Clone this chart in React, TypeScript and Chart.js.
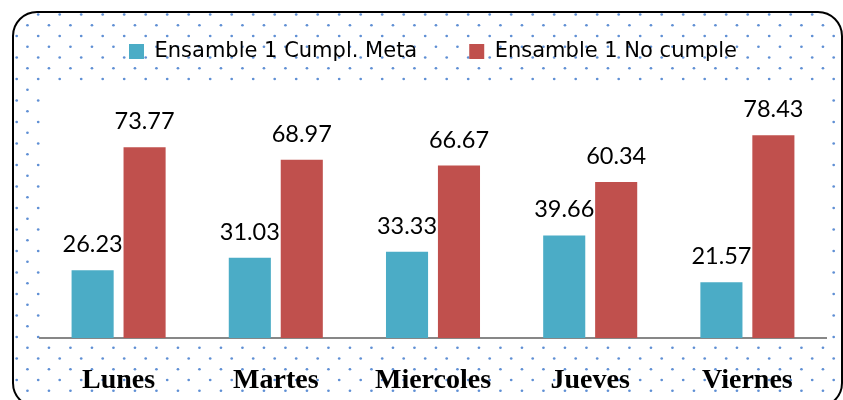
import React, { useEffect, useRef } from "react";
import { Chart, registerables } from "chart.js";

Chart.register(...registerables);

const categories = ["Lunes", "Martes", "Miercoles", "Jueves", "Viernes"];
const seriesNames = ["Ensamble 1 Cumpl. Meta", "Ensamble 1 No cumple"];
const metaValues = [26.23, 31.03, 33.33, 39.66, 21.57];
const noCumpleValues = [73.77, 68.97, 66.67, 60.34, 78.43];
const seriesColors = ["#4bacc6", "#c0504d"];

const W = 843;
const H = 400;

function roundRectPath(ctx: CanvasRenderingContext2D, x: number, y: number, w: number, h: number, r: number) {
  ctx.beginPath();
  ctx.moveTo(x + r, y);
  ctx.lineTo(x + w - r, y);
  ctx.arcTo(x + w, y, x + w, y + r, r);
  ctx.lineTo(x + w, y + h - r);
  ctx.arcTo(x + w, y + h, x + w - r, y + h, r);
  ctx.lineTo(x + r, y + h);
  ctx.arcTo(x, y + h, x, y + h - r, r);
  ctx.lineTo(x, y + r);
  ctx.arcTo(x, y, x + r, y, r);
  ctx.closePath();
}

const FRAME = { x: 13, y: 12, w: 829, h: 395, r: 24 };

const decorPlugin = {
  id: "decor",
  beforeDraw(chart: any) {
    const ctx: CanvasRenderingContext2D = chart.ctx;
    const a = chart.chartArea;
    ctx.save();
    ctx.fillStyle = "#ffffff";
    ctx.fillRect(0, 0, chart.width, chart.height);
    roundRectPath(ctx, FRAME.x, FRAME.y, FRAME.w, FRAME.h, FRAME.r);
    ctx.clip();
    ctx.fillStyle = "#5f8fd4";
    const stepX = 21.5;
    const stepY = 10.75;
    for (let i = 0; i < 40; i++) {
      const y = 14.5 + i * stepY;
      const x0 = 16.7 + (i % 2 === 1 ? 10.75 : 0);
      for (let x = x0; x < chart.width; x += stepX) {
        ctx.beginPath();
        ctx.arc(x, y, 1.35, 0, Math.PI * 2);
        ctx.fill();
      }
    }
    ctx.fillStyle = "#ffffff";
    ctx.fillRect(a.left, a.top + 1.5, a.right - a.left + 1, a.bottom - a.top - 1.5);
    ctx.restore();
  },
  afterDraw(chart: any) {
    const ctx: CanvasRenderingContext2D = chart.ctx;
    ctx.save();
    roundRectPath(ctx, FRAME.x, FRAME.y, FRAME.w, FRAME.h, FRAME.r);
    ctx.strokeStyle = "#000000";
    ctx.lineWidth = 2;
    ctx.stroke();
    ctx.restore();
  },
  afterDatasetsDraw(chart: any) {
    const ctx: CanvasRenderingContext2D = chart.ctx;
    ctx.save();
    ctx.font = "23.5px Lato";
    ctx.fillStyle = "#000000";
    ctx.textAlign = "center";
    ctx.textBaseline = "alphabetic";
    chart.data.datasets.forEach((ds: any, di: number) => {
      const meta = chart.getDatasetMeta(di);
      meta.data.forEach((bar: any, i: number) => {
        const v = ds.data[i];
        ctx.fillText(v.toFixed(2), bar.x, bar.y - 18);
      });
    });
    ctx.restore();
  },
};

export default function App() {
  const ref = useRef<HTMLCanvasElement>(null);
  useEffect(() => {
    document.body.style.margin = "0";
    const chart = new Chart(ref.current as HTMLCanvasElement, {
      type: "bar",
      data: {
        labels: categories,
        datasets: [
          {
            label: seriesNames[0],
            data: metaValues,
            backgroundColor: seriesColors[0],
            borderWidth: 0,
            categoryPercentage: 0.661,
            barPercentage: 0.81,
          },
          {
            label: seriesNames[1],
            data: noCumpleValues,
            backgroundColor: seriesColors[1],
            borderWidth: 0,
            categoryPercentage: 0.661,
            barPercentage: 0.81,
          },
        ],
      },
      options: {
        responsive: false,
        animation: false,
        layout: { padding: { left: 40, right: 17, top: -11, bottom: -23.6 } },
        scales: {
          x: {
            grid: { display: false, drawTicks: false },
            border: { display: true, color: "#878787", width: 2 },
            ticks: {
              padding: 26,
              color: "#000000",
              font: { family: "Liberation Serif", size: 28, weight: "bold" },
            },
          },
          y: {
            display: false,
            min: 0,
            max: 100,
          },
        },
        plugins: {
          legend: {
            position: "top",
            labels: {
              boxWidth: 15,
              boxHeight: 15,
              padding: 52,
              color: "#000000",
              font: { family: "DejaVu Sans", size: 21 },
            },
          },
          title: {
            display: true,
            text: "",
            weight: 500,
            padding: 0,
            font: { size: 7.4, lineHeight: 1 },
          },
          tooltip: { enabled: false },
        },
      },
      plugins: [decorPlugin],
    } as any);
    return () => chart.destroy();
  }, []);
  return (
    <div style={{ width: W, height: H }}>
      <canvas ref={ref} width={W} height={H} style={{ display: "block" }} />
    </div>
  );
}
